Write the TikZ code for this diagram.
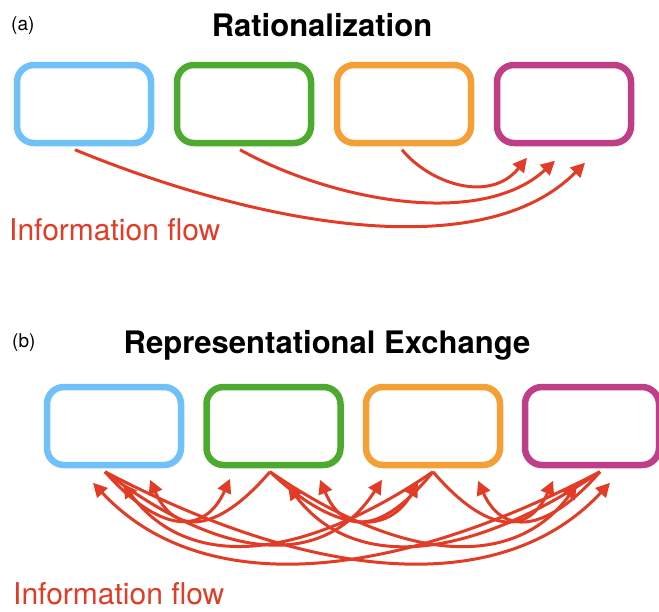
\documentclass[tikz,border=0pt]{standalone}
\usepackage{fontspec}
\setmainfont{TeX Gyre Heros}
\usetikzlibrary{arrows.meta,calc}
\definecolor{boxblue}{RGB}{112,192,250}
\definecolor{boxgreen}{RGB}{76,170,46}
\definecolor{boxorange}{RGB}{245,160,55}
\definecolor{boxmagenta}{RGB}{192,62,136}
\definecolor{flowred}{RGB}{226,60,38}
\tikzset{
  box/.style={draw=#1, line width=6.5pt, rounded corners=17pt, minimum width=134pt, minimum height=78pt, inner sep=0pt},
  flow/.style={draw=flowred, line width=3pt, -{Triangle[length=14pt,width=14pt]}},
  paneltag/.style={anchor=base west, inner sep=0pt, font=\fontsize{19}{21}\selectfont},
  paneltitle/.style={anchor=base, inner sep=0pt, font=\fontsize{31}{34}\selectfont\bfseries},
  flowtag/.style={anchor=base west, inner sep=0pt, text=flowred, font=\fontsize{30}{34}\selectfont}
}

\begin{document}
\begin{tikzpicture}[x=1pt, y=-1pt]
\useasboundingbox (0,0) rectangle (659,611);
\node[paneltag] (taga) at (11,30) {(a)};
\node[paneltitle] (titlea) at (322,36) {Rationalization};
\node[box=boxblue] (ra1) at (84,104) {};
\node[box=boxgreen] (ra2) at (244,104) {};
\node[box=boxorange] (ra3) at (404,104) {};
\node[box=boxmagenta] (ra4) at (564,104) {};
\coordinate (a1out) at ($(ra1.south)+(-9,3.5)$);
\coordinate (a2out) at ($(ra2.south)+(-4,3.5)$);
\coordinate (a3out) at ($(ra3.south)+(-2,3.5)$);
\coordinate (a4in1) at ($(ra4.south)+(21,16.5)$);
\coordinate (a4in2) at ($(ra4.south)+(-9,14.5)$);
\coordinate (a4in3) at ($(ra4.south)+(-37,11.5)$);
\draw[flow] (a1out) .. controls +(175,72) and +(-105,106) .. (a4in1);
\draw[flow] (a2out) .. controls +(90,50) and +(-75,69) .. (a4in2);
\draw[flow] (a3out) .. controls +(28,34) and +(-37,46) .. (a4in3);
\node[flowtag] (flowa) at (9,240) {Information flow};
\node[paneltag] (tagb) at (12,347) {(b)};
\node[paneltitle] (titleb) at (327,353) {Representational Exchange};
\node[box=boxblue] (rb1) at (114,426) {};
\node[box=boxgreen] (rb2) at (273.5,426) {};
\node[box=boxorange] (rb3) at (433,426) {};
\node[box=boxmagenta] (rb4) at (592,426) {};
\coordinate (b1out) at ($(rb1.south)+(-9,3.5)$);
\coordinate (b2out) at ($(rb2.south)+(-3.5,3.5)$);
\coordinate (b3out) at ($(rb3.south)+(0,3.5)$);
\coordinate (b4out) at ($(rb4.south)+(8,3.5)$);
\coordinate (b1in2) at ($(rb1.south)+(36,11.5)$);
\coordinate (b1in3) at ($(rb1.south)+(9,15.5)$);
\coordinate (b1in4) at ($(rb1.south)+(-21,14.5)$);
\coordinate (b2in1) at ($(rb2.south)+(-43.5,10.5)$);
\coordinate (b2in3) at ($(rb2.south)+(46.5,11.5)$);
\coordinate (b2in4) at ($(rb2.south)+(14.5,17.5)$);
\coordinate (b3in1) at ($(rb3.south)+(-51,11.5)$);
\coordinate (b3in2) at ($(rb3.south)+(-15,14.5)$);
\coordinate (b3in4) at ($(rb3.south)+(45,12.5)$);
\coordinate (b4in1) at ($(rb4.south)+(18,14.5)$);
\coordinate (b4in2) at ($(rb4.south)+(-15,16.5)$);
\coordinate (b4in3) at ($(rb4.south)+(-39,12.5)$);
\draw[flow] (b1out) .. controls +(56,63) and +(-25,56) .. (b2in1);
\draw[flow] (b1out) .. controls +(125,95) and +(-55,86) .. (b3in1);
\draw[flow] (b1out) .. controls +(227,119) and +(-101,109) .. (b4in1);
\draw[flow] (b2out) .. controls +(-54,63) and +(24,55) .. (b1in2);
\draw[flow] (b2out) .. controls +(67,63) and +(-30,52) .. (b3in2);
\draw[flow] (b2out) .. controls +(138,95) and +(-61,83) .. (b4in2);
\draw[flow] (b3out) .. controls +(-140,95) and +(62,84) .. (b1in3);
\draw[flow] (b3out) .. controls +(-51,63) and +(23,55) .. (b2in3);
\draw[flow] (b3out) .. controls +(54,63) and +(-24,54) .. (b4in3);
\draw[flow] (b4out) .. controls +(-228,119) and +(101,109) .. (b1in4);
\draw[flow] (b4out) .. controls +(-140,95) and +(62,82) .. (b2in4);
\draw[flow] (b4out) .. controls +(-55,63) and +(24,54) .. (b3in4);
\node[flowtag] (flowb) at (13,604) {Information flow};
\end{tikzpicture}
\end{document}
